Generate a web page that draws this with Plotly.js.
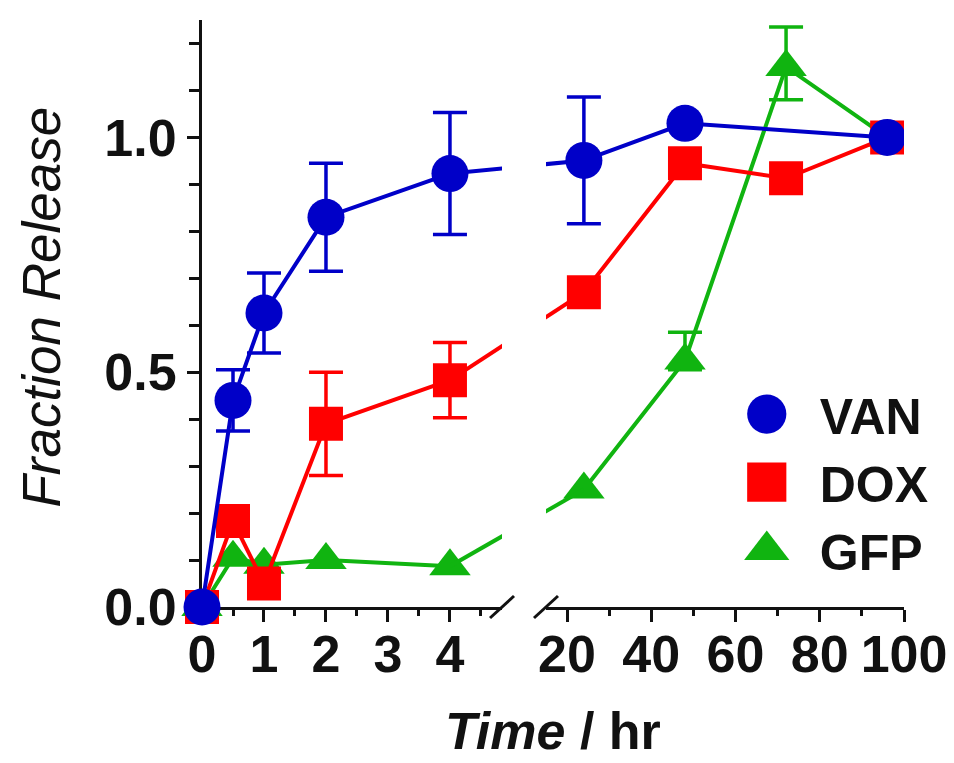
<!DOCTYPE html>
<html><head><meta charset="utf-8">
<script src="https://cdn.plot.ly/plotly-3.0.1.min.js"></script>
<style>html,body{margin:0;padding:0;background:#fff}</style>
</head><body><div id="chart" style="width:954px;height:763px"></div>
<script>
// ---- data ----
const vanTime = [0, 0.5, 1, 2, 4, 24, 48, 96];
const vanRelease = [0, 0.44, 0.626, 0.83, 0.923, 0.951, 1.03, 1.0];
const vanErrUp = [0, 0.065, 0.085, 0.115, 0.13, 0.135, 0, 0];
const vanErrDown = [0, 0.065, 0.085, 0.115, 0.13, 0.135, 0, 0];

const doxTime = [0, 0.5, 1, 2, 4, 24, 48, 72, 96];
const doxRelease = [0, 0.183, 0.05, 0.39, 0.483, 0.67, 0.945, 0.913, 1.0];
const doxErrUp = [0, 0, 0, 0.11, 0.08, 0, 0, 0, 0];
const doxErrDown = [0, 0, 0, 0.11, 0.08, 0, 0, 0, 0];

const gfpTime = [0, 0.5, 1, 2, 4, 24, 48, 72, 96];
const gfpRelease = [0, 0.105, 0.09, 0.10, 0.087, 0.25, 0.525, 1.15, 1.0];
const gfpErrUp = [0, 0, 0, 0, 0, 0, 0.06, 0.085, 0];
const gfpErrDown = [0, 0, 0, 0, 0, 0, 0.02, 0.07, 0];

const seriesNames = ['VAN', 'DOX', 'GFP'];
const xTicksLeft = [0, 1, 2, 3, 4];
const xTicksRight = [20, 40, 60, 80, 100];
const yTicks = [0, 0.5, 1.0];

// ---- broken x axis configuration ----
const leftRange = [0, 4.84], leftDomain = [0, 0.4274];
const rightRange = [15, 100], rightDomain = [0.49, 1];
const yRange = [0, 1.25];

const FONT = 'Liberation Sans, Arial, Helvetica, sans-serif';
const colors = ['#0000c8', '#ff0000', '#10b410'];
const symbols = ['circle', 'square', 'triangle-up'];
const sizes = [37, 34, 36];

const series = [
  {t: vanTime, v: vanRelease, up: vanErrUp, dn: vanErrDown},
  {t: doxTime, v: doxRelease, up: doxErrUp, dn: doxErrDown},
  {t: gfpTime, v: gfpRelease, up: gfpErrUp, dn: gfpErrDown}
];

function paperPos(t) {
  if (t <= leftRange[1]) return leftDomain[0] + (t - leftRange[0]) / (leftRange[1] - leftRange[0]) * (leftDomain[1] - leftDomain[0]);
  return rightDomain[0] + (t - rightRange[0]) / (rightRange[1] - rightRange[0]) * (rightDomain[1] - rightDomain[0]);
}

const traces = [];
// connector axes across the break (screen-space straight segments)
const allT = vanTime;
const tA = Math.max(...allT.filter(t => t <= leftRange[1]));
const tB = Math.min(...allT.filter(t => t >= rightRange[0]));
const pA = paperPos(tA), pB = paperPos(tB);
const tAt = p => tA + (p - pA) / (pB - pA) * (tB - tA);

// draw GFP first, VAN last (VAN on top as in the reference)
[2, 1, 0].forEach(k => {
  const s = series[k];
  const nz = a => a.map(e => (e ? e : NaN));
  const idxL = s.t.map((t, i) => i).filter(i => s.t[i] <= leftRange[1]);
  const idxR = s.t.map((t, i) => i).filter(i => s.t[i] >= rightRange[0]);
  const pick = (a, idx) => idx.map(i => a[i]);
  const iA = s.t.indexOf(tA), iB = s.t.indexOf(tB);
  ['x3', 'x4'].forEach(xa => {
    traces.push({type: 'scatter', mode: 'lines', showlegend: false, hoverinfo: 'skip',
      x: [s.t[iA], s.t[iB]], y: [s.v[iA], s.v[iB]], xaxis: xa, yaxis: 'y',
      line: {color: colors[k], width: 4}});
  });
  const common = {
    type: 'scatter', mode: 'lines+markers', showlegend: false,
    line: {color: colors[k], width: 4},
    marker: {color: colors[k], symbol: symbols[k], size: sizes[k], line: {width: 0}},
    hoverinfo: 'x+y'
  };
  [[idxL, 'x', false], [idxR, 'x2', true]].forEach(([idx, xa, clip]) => {
    traces.push(Object.assign({}, common, {
      x: pick(s.t, idx), y: pick(s.v, idx), xaxis: xa, yaxis: 'y', cliponaxis: clip,
      error_y: {type: 'data', symmetric: false, array: nz(pick(s.up, idx)), arrayminus: nz(pick(s.dn, idx)),
                color: colors[k], thickness: 3.5, width: 17}
    }));
  });
});
// legend entries
seriesNames.forEach((n, k) => {
  traces.push({type: 'scatter', mode: 'markers', name: n, x: [null], y: [null], xaxis: 'x', yaxis: 'y',
    marker: {color: colors[k], symbol: symbols[k], size: 16}, showlegend: true});
});

const tickFont = {family: FONT, size: 52, color: '#111', weight: 'bold'};
const baseX = {
  anchor: 'y', showline: true, linewidth: 3, linecolor: '#111', mirror: false,
  ticks: 'outside', ticklen: 12, tickwidth: 3, tickcolor: '#111', ticklabelstandoff: -12,
  showgrid: false, zeroline: false, tickfont: tickFont, layer: 'below traces', fixedrange: true
};

const layout = {
  width: 954, height: 763,
  margin: {l: 202, r: 50, t: 20, b: 156},
  paper_bgcolor: '#fff', plot_bgcolor: 'rgba(0,0,0,0)',
  showlegend: true,
  xaxis: Object.assign({}, baseX, {domain: leftDomain, range: leftRange, tickvals: xTicksLeft,
    ticktext: xTicksLeft.map(String),
    minor: {dtick: 0.5, tick0: 0, ticks: 'outside', ticklen: 6, tickwidth: 3, tickcolor: '#111', showgrid: false}}),
  xaxis2: Object.assign({}, baseX, {domain: rightDomain, range: rightRange, tickvals: xTicksRight,
    ticktext: xTicksRight.map(String),
    minor: {dtick: 10, tick0: 0, ticks: 'outside', ticklen: 6, tickwidth: 3, tickcolor: '#111', showgrid: false}}),
  xaxis3: {domain: [pA, leftDomain[1]], range: [tA, tAt(leftDomain[1])], anchor: 'y', visible: false, fixedrange: true},
  xaxis4: {domain: [rightDomain[0], pB], range: [tAt(rightDomain[0]), tB], anchor: 'y', visible: false, fixedrange: true},
  yaxis: {anchor: 'x', range: yRange, showline: true, linewidth: 3, linecolor: '#111',
    ticks: 'outside', ticklen: 12, tickwidth: 3, tickcolor: '#111', tickvals: yTicks, tickformat: '.1f',
    minor: {dtick: 0.1, tick0: 0, ticks: 'outside', ticklen: 10, tickwidth: 3, tickcolor: '#111', showgrid: false},
    showgrid: false, zeroline: false, tickfont: tickFont, layer: 'below traces', fixedrange: true},
  legend: {x: 0.729, xanchor: 'left', y: 0.2128, yanchor: 'middle', itemwidth: 96,
    font: {family: FONT, size: 50, color: '#111', weight: 'bold'}, bgcolor: 'rgba(0,0,0,0)', tracegroupgap: 0},
  shapes: [
    {type: 'line', xref: 'x domain', yref: 'y domain', xsizemode: 'pixel', ysizemode: 'pixel',
     xanchor: 1, yanchor: 0, x0: -12, x1: 12, y0: -11, y1: 11, line: {color: '#111', width: 3}},
    {type: 'line', xref: 'x2 domain', yref: 'y domain', xsizemode: 'pixel', ysizemode: 'pixel',
     xanchor: 0, yanchor: 0, x0: -12, x1: 12, y0: -11, y1: 11, line: {color: '#111', width: 3}}
  ],
  annotations: [
    {text: '<i>Time</i> / hr', xref: 'paper', yref: 'paper', x: 0.5, y: -0.2640, xanchor: 'center', yanchor: 'bottom',
     showarrow: false, font: {family: FONT, size: 52, color: '#111', weight: 'bold'}},
    {text: '<i>Fraction Release</i>', xref: 'paper', yref: 'paper', x: -0.229, y: 0.5106, textangle: -90,
     xanchor: 'center', yanchor: 'middle', showarrow: false, font: {family: FONT, size: 53, color: '#111'}}
  ]
};

Plotly.newPlot('chart', traces, layout, {displayModeBar: false, staticPlot: true}).then(gd => {
  gd.querySelectorAll('.legend .legendpoints path.scatterpts').forEach(p => {
    const tr = p.getAttribute('transform') || '';
    p.setAttribute('transform', tr + ' scale(2.45)');
  });
});
</script></body></html>
